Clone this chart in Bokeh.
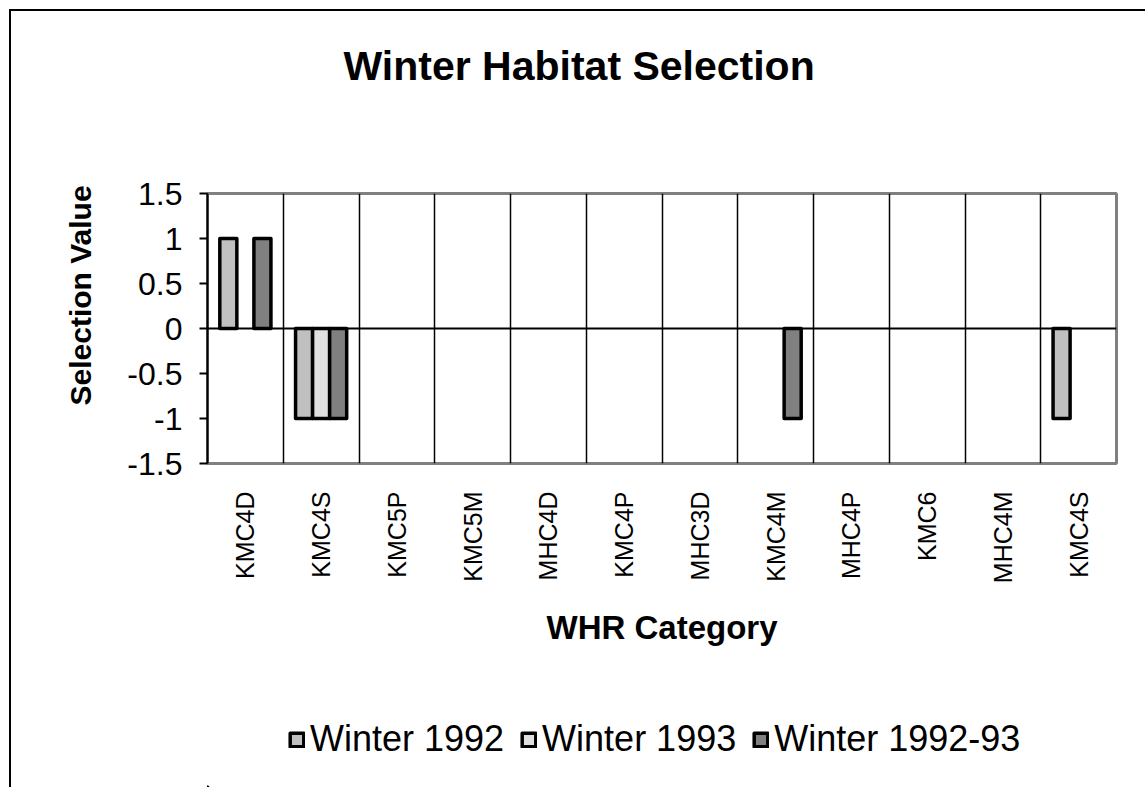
import math
from bokeh.plotting import figure
from bokeh.layouts import column
from bokeh.models import (Span, Legend, LegendItem, FixedTicker, Title,
                          CustomJSTickFormatter, ColumnDataSource, Range1d)
from bokeh.embed import file_html
from bokeh.resources import INLINE

# ---- data -------------------------------------------------------------
categories = ["KMC4D", "KMC4S", "KMC5P", "KMC5M", "MHC4D", "KMC4P",
              "MHC3D", "KMC4M", "MHC4P", "KMC6", "MHC4M", "KMC4S"]
winter_1992 = [1, -1, 0, 0, 0, 0, 0, 0, 0, 0, 0, -1]
winter_1993 = [0, -1, 0, 0, 0, 0, 0, 0, 0, 0, 0, 0]
winter_1992_93 = [1, -1, 0, 0, 0, 0, 0, -1, 0, 0, 0, 0]
series_names = ["Winter 1992", "Winter 1993", "Winter 1992-93"]
series_values = [winter_1992, winter_1993, winter_1992_93]
series_colors = ["#C0C0C0", "#E0E0E0", "#808080"]
y_ticks = [-1.5, -1, -0.5, 0, 0.5, 1, 1.5]

FONT = "Liberation Sans"
W = 1134
H_MAIN = 652
H_LEG = 124

p = figure(width=W, height=H_MAIN, output_backend="svg", toolbar_location=None,
           x_range=Range1d(0, len(categories)), y_range=Range1d(-1.5, 1.5),
           min_border_left=196, min_border_right=29,
           min_border_top=182, min_border_bottom=H_MAIN - 452)
p.background_fill_color = "white"
p.border_fill_color = "white"
p.outline_line_color = "#808080"
p.outline_line_width = 3

# ---- title (spacer first, then the visible title further from the frame)
p.add_layout(Title(text=" ", text_font_size="10px", standoff=92), "above")
p.add_layout(Title(text="Winter Habitat Selection", align="left", offset=136,
                   standoff=0, text_font=FONT, text_font_style="bold",
                   text_font_size="41px", text_color="black"), "above")

# ---- bars ---------------------------------------------------------------
bar_w = 0.225
offsets = [-bar_w, 0.0, bar_w]
sources = []
for name, vals, color, off in zip(series_names, series_values, series_colors, offsets):
    xs = [i + 0.5 + off for i, v in enumerate(vals) if v != 0]
    tops = [v for v in vals if v != 0]
    src = ColumnDataSource(dict(x=xs, top=tops))
    sources.append(src)
    p.vbar(x="x", top="top", bottom=0, width=bar_w, source=src,
           fill_color=color, line_color="black", line_width=3.5,
           line_join="round")

# zero line
p.add_layout(Span(location=0, dimension="width", line_color="black", line_width=2))

# ---- grid ---------------------------------------------------------------
p.xgrid.ticker = FixedTicker(ticks=list(range(1, len(categories))))
p.xgrid.grid_line_color = "black"
p.xgrid.grid_line_width = 1.5
p.ygrid.visible = False

# ---- y axis -------------------------------------------------------------
p.yaxis.ticker = FixedTicker(ticks=y_ticks)
p.yaxis.formatter = CustomJSTickFormatter(code="return tick.toString()")
p.yaxis.axis_line_color = "black"
p.yaxis.axis_line_width = 2
p.yaxis.major_tick_line_width = 2
p.yaxis.major_tick_out = 8
p.yaxis.major_tick_in = 0
p.yaxis.minor_tick_out = 0
p.yaxis.minor_tick_in = 0
p.yaxis.major_label_standoff = 17
p.yaxis.major_label_text_font = FONT
p.yaxis.major_label_text_font_size = "32px"
p.yaxis.major_label_text_color = "black"

# y axis title (placed like the original: starts near -1, not centred)
p.add_layout(Title(text="Selection Value", align="left", offset=58,
                   standoff=56, text_font=FONT, text_font_style="bold",
                   text_font_size="30px", text_color="black"), "left")

# ---- x axis -------------------------------------------------------------
p.xaxis.ticker = FixedTicker(ticks=[i + 0.5 for i in range(len(categories))])
p.xaxis.formatter = CustomJSTickFormatter(args=dict(cats=categories),
                                          code="return cats[Math.floor(tick)]")
p.xaxis.major_label_orientation = math.pi / 2
p.xaxis.axis_line_color = None
p.xaxis.major_tick_line_color = None
p.xaxis.minor_tick_line_color = None
p.xaxis.major_label_standoff = 22
p.xaxis.major_label_text_font = FONT
p.xaxis.major_label_text_font_size = "25px"
p.xaxis.major_label_text_color = "black"
p.xaxis.axis_label = "WHR Category"
p.xaxis.axis_label_text_font = FONT
p.xaxis.axis_label_text_font_style = "bold"
p.xaxis.axis_label_text_font_size = "33px"
p.xaxis.axis_label_text_color = "black"
p.xaxis.axis_label_standoff = 23

# ---- legend strip (separate figure under the chart) ---------------------
# the ranges are far from the data, so only the legend swatches show here
q = figure(width=W, height=H_LEG, output_backend="svg", toolbar_location=None,
           x_axis_location=None, y_axis_location=None,
           x_range=Range1d(500, 501), y_range=Range1d(500, 501), min_border=0)
q.outline_line_color = None
q.grid.visible = False
q.background_fill_color = "white"
q.border_fill_color = "white"
leg_renderers = []
for src, color in zip(sources, series_colors):
    leg_renderers.append(q.vbar(x="x", top="top", bottom=0, width=bar_w,
                                source=src, fill_color=color,
                                line_color="black", line_width=3.5,
                                line_join="round"))
legend = Legend(items=[LegendItem(label=n, renderers=[r])
                       for n, r in zip(series_names, leg_renderers)],
                orientation="horizontal", location=(81, 27),
                padding=0, margin=0, spacing=16, label_standoff=5,
                glyph_width=17, glyph_height=17,
                border_line_color=None, background_fill_alpha=0,
                label_text_font=FONT, label_text_font_size="36px",
                label_text_color="black")
q.add_layout(legend)

layout = column(p, q, spacing=0)
layout.styles = {"position": "relative", "left": "9px", "top": "9px",
                 "border-left": "2px solid black", "border-top": "2px solid black"}

open("out.html", "w").write(file_html(layout, INLINE))
